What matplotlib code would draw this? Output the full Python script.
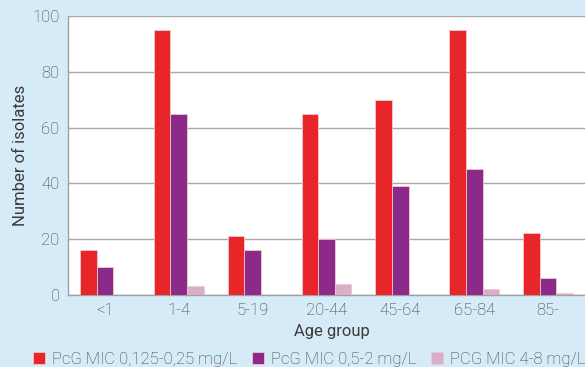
import matplotlib
matplotlib.use("Agg")
import matplotlib.pyplot as plt
import numpy as np

age_groups = ["<1", "1-4", "5-19", "20-44", "45-64", "65-84", "85-"]
mic_low = [16, 95, 21, 65, 70, 95, 22]
mic_mid = [10, 65, 16, 20, 39, 45, 6]
mic_high = [0, 3, 0, 4, 0, 2, 0.5]
series_labels = ["PcG MIC 0,125-0,25 mg/L", "PcG MIC 0,5-2 mg/L", "PCG MIC 4-8 mg/L"]
series_colors = ["#E8262A", "#8C2A8A", "#D9AECB"]
y_ticks = [0, 20, 40, 60, 80, 100]

plt.rcParams["font.family"] = ["Roboto", "Liberation Sans", "DejaVu Sans"]
plt.rcParams["font.weight"] = "light"
text_color = "#3A3A3A"
bg = "#D5EBF8"
fs = 12

fig = plt.figure(figsize=(5.85, 3.67), dpi=100, facecolor=bg)
ax = fig.add_axes([0.1162, 0.197, 0.8838, 0.759])
ax.set_facecolor("white")

x = np.arange(len(age_groups))
w = 0.225
for i, (vals, lab, col) in enumerate(zip([mic_low, mic_mid, mic_high], series_labels, series_colors)):
    ax.bar(x + (i - 1) * w, vals, width=w, color=col, label=lab,
           edgecolor="#F2C8CC", linewidth=0.6, zorder=3)

ax.set_xlim(-0.5, len(age_groups) - 0.5)
ax.set_ylim(0, 100)
ax.set_yticks(y_ticks)
ax.set_xticks(x)
ax.set_xticklabels(age_groups)
ax.tick_params(axis="both", length=0, labelsize=fs, colors=text_color)
ax.tick_params(axis="x", pad=6)
ax.tick_params(axis="y", pad=6)
ax.grid(axis="y", color="#A8A8A8", linewidth=1.0, zorder=0)
for s in ["top", "right"]:
    ax.spines[s].set_visible(False)
for s in ["left", "bottom"]:
    ax.spines[s].set_color("#A0A0A0")
    ax.spines[s].set_linewidth(1.0)
ax.set_axisbelow(True)

ax.set_xlabel("Age group", fontsize=fs, color=text_color)
ax.xaxis.set_label_coords(0.51, -0.105)
ax.set_ylabel("Number of isolates", fontsize=fs, color=text_color)
ax.yaxis.set_label_coords(-0.078, 0.5)

fig.legend(loc="lower left", bbox_to_anchor=(0.03, -0.04), ncol=3, frameon=False,
           fontsize=fs, labelcolor=text_color, handlelength=0.72, handleheight=0.72,
           handletextpad=0.42, columnspacing=0.9)

fig.savefig("out.png", dpi=100, facecolor=bg)
